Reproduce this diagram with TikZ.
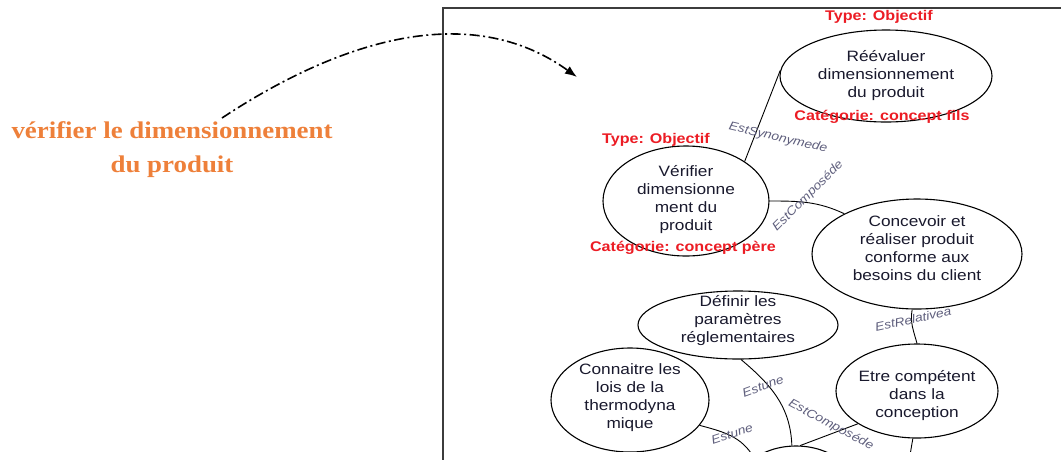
\documentclass[tikz,border=0pt]{standalone}
\usepackage{fontspec}
\usetikzlibrary{shapes.geometric,arrows.meta}
\newfontfamily\sansf[FakeStretch=1.15]{Liberation Sans}
\newfontfamily\seriff[FakeStretch=1.12]{Liberation Serif}
\definecolor{orangeT}{RGB}{238,128,58}
\definecolor{redT}{RGB}{236,28,36}
\definecolor{labT}{RGB}{95,95,125}
\definecolor{inkT}{RGB}{25,25,45}
\definecolor{frameT}{RGB}{60,60,60}
\newcommand\etext[2][-3.75pt]{\raisebox{#1}[0pt][0pt]{\makebox[0pt]{\fontsize{15}{18}\selectfont\begin{tabular}{@{}c@{}}#2\end{tabular}}}}
\tikzset{
  concept/.style={ellipse, draw=black, line width=1.1pt, inner sep=0pt, text=inkT, font=\sansf},
  conn/.style={draw=black, line width=0.9pt},
  rel/.style={font={\sansf\itshape\fontsize{12}{14}\selectfont}, text=labT, inner sep=0pt},
  redlab/.style={font={\sansf\bfseries\fontsize{14}{16}\selectfont}, text=redT, inner sep=0pt},
  dashdotarrow/.style={line width=1.6pt, dash pattern=on 10pt off 3.5pt on 2pt off 3.5pt, -{Latex[length=12pt,width=9pt]}}
}
\begin{document}
\begin{tikzpicture}[x=1pt,y=-1pt]
\useasboundingbox (0,0) rectangle (1061,459);
\fill[white] (0,0) rectangle (1061,459);
\clip (0,0) rectangle (1061,459);
% frame
\draw[frameT, line width=1.6pt] (443,480) -- (443,8) -- (1080,8);
% left caption and arrow
\node[font={\seriff\bfseries\fontsize{24}{34}\selectfont}, text=orangeT, align=center, inner sep=0pt] (q) at (172,150) {vérifier le dimensionnement\\du produit};
\coordinate (a0) at (222,118);
\coordinate (a1) at (577,77);
\draw[dashdotarrow] (a0) .. controls (340,40) and (470,0) .. (a1);
\begin{scope}
\clip (444,9) rectangle (1061,451);
% concepts
\node[concept, minimum width=212pt, minimum height=92pt] (e1) at (886,76) {\etext{Réévaluer\\dimensionnement\\du produit}};
\node[concept, minimum width=166pt, minimum height=110pt] (e2) at (686,201) {\etext[-2.75pt]{Vérifier\\dimensionne\\ment du\\produit}};
\node[concept, minimum width=210pt, minimum height=110pt] (e3) at (917,254) {\etext[0.25pt]{Concevoir et\\réaliser produit\\conforme aux\\besoins du client}};
\node[concept, minimum width=200pt, minimum height=68pt] (e4) at (738,325) {\etext[0.25pt]{Définir les\\paramètres\\réglementaires}};
\node[concept, minimum width=158pt, minimum height=104pt] (e5) at (630,400) {\etext[-1.75pt]{Connaitre les\\lois de la\\thermodyna\\mique}};
\node[concept, minimum width=162pt, minimum height=94pt] (e6) at (917,391) {\etext[-8.75pt]{Etre compétent\\dans la\\conception}};
\node[concept, minimum width=124pt, minimum height=94pt] (e7) at (796,493) {};
\coordinate (c7) at (904,490);
% connectors
\draw[conn] (e2.34) -- (e1.177);
\draw[conn] (e2.east) to[out=0,in=155] (e3.151);
\draw[conn] (e3.265) to[out=-100,in=105] (e6.north);
\draw[conn] (e4.-85) to[out=-40,in=92] (e7.95);
\draw[conn] (e6.209) -- (e7.85);
\draw[conn] (e5.-20) to[out=-15,in=120] (e7.140);
\draw[conn] (e6.265) -- (c7);
% relation labels
\node[rel, rotate=-13] (l1) at (778,138) {EstSynonymede};
\node[rel, rotate=45] (l2) at (808,196) {EstComposéde};
\node[rel, rotate=12] (l3) at (913,319) {EstRelativea};
\node[rel, rotate=20] (l4) at (763,386) {Estune};
\node[rel, rotate=-28] (l5) at (831,425) {EstComposéde};
\node[rel, rotate=18] (l6) at (732,434) {Estune};
\node[rel, rotate=18] (l7) at (926,462) {Estune};
% red annotations
\node[redlab] (t1) at (879,17) {Type: Objectif};
\node[redlab] (k1) at (882,117) {Catégorie: concept fils};
\node[redlab] (t2) at (656,140) {Type: Objectif};
\node[redlab] (k2) at (683,248) {Catégorie: concept père};
\end{scope}
\end{tikzpicture}
\end{document}
